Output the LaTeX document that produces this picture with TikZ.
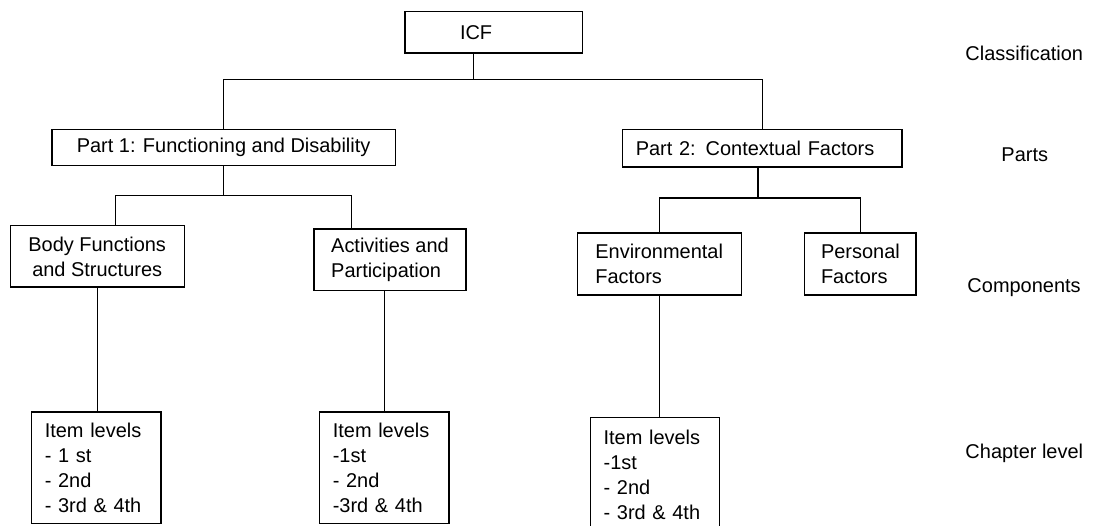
\documentclass[tikz,border=0pt]{standalone}
\usepackage{fontspec}
\setmainfont{Liberation Sans}
\usepackage{tikz}
\usetikzlibrary{calc}

\tikzset{
    box/.style={draw, line width=0.95pt, inner sep=0pt, font={\fontsize{14.2}{17.8}\selectfont}},
    link/.style={line width=0.8pt},
    level/.style={anchor=west, inner sep=0pt, font={\fontsize{14.2}{17.8}\selectfont}}
}

\begin{document}
\begin{tikzpicture}
        \useasboundingbox (0, 0) rectangle (27.925, -13.125);

        \node[box, minimum height=1.03cm, text width=1.68cm, inner xsep=1.375cm, align=left] (icf) at (12.34, -0.81) {ICF};
        \node[box, minimum width=8.58cm, minimum height=0.9cm] (part1) at (5.59, -3.68) {Part 1: Functioning and Disability};
        \node[box, minimum height=0.93cm, text width=6.33cm, inner xsep=0.325cm, align=left] (part2) at (19.06, -3.71) {Part 2: Contextual Factors};
        \node[box, minimum width=4.35cm, minimum height=1.53cm, align=center] (body) at (2.43, -6.41) {Body Functions\\and Structures};
        \node[box, minimum width=3.8cm, minimum height=1.53cm, align=left] (act) at (9.75, -6.49) {Activities and\\Participation};
        \node[box, minimum width=4.1cm, minimum height=1.55cm, align=left] (env) at (16.48, -6.6) {Environmental\\Factors};
        \node[box, minimum width=2.78cm, minimum height=1.55cm, align=left] (pers) at (21.51, -6.6) {Personal\\Factors};
        % item levels under the components
        \node[box, minimum height=2.78cm, text width=2.58cm, inner xsep=0.325cm, align=left] (item1) at (2.41, -11.69) {Item levels\\- 1 st\\- 2nd\\- 3rd \& 4th};
        \node[box, minimum height=2.78cm, text width=2.58cm, inner xsep=0.325cm, align=left] (item2) at (9.61, -11.69) {Item levels\\-1st\\- 2nd\\-3rd \& 4th};
        \node[box, minimum height=2.9cm, text width=2.58cm, inner xsep=0.325cm, align=left] (item3) at (16.38, -11.88) {Item levels\\-1st\\- 2nd\\- 3rd \& 4th};

        % level names on the right
        \node[level] (classLvl) at (24.13, -1.33) {Classification};
        \node[level] (partsLvl) at (25.03, -3.88) {Parts};
        \node[level] (compLvl) at (24.18, -7.18) {Components};
        \node[level] (chapLvl) at (24.13, -11.33) {Chapter level};

        \coordinate (icfJoin) at (11.83, -1.98);
        \coordinate (p1L) at (2.88, -4.88);
        \coordinate (p1R) at (8.78, -4.88);
        \coordinate (p2Join) at (18.95, -4.95);

        \draw[link] (icfJoin |- icf.south) -- (icfJoin);
        \draw[link] (part1.north) |- (icfJoin) -| (part2.north);
        \draw[link] (part1.south) -- (part1.south |- p1L);
        \draw[link] (p1L |- body.north) -- (p1L) -- (p1R) -- (p1R |- act.north);
        \draw[link] (p2Join |- part2.south) -- (p2Join);
        \draw[link] (env.north) |- (p2Join) -| (pers.north);
        \draw[link] (body.south) -- (body.south |- item1.north);
        \draw[link] (item2.north |- act.south) -- (item2.north);
        \draw[link] (env.south) -- (env.south |- item3.north);
    \end{tikzpicture}
\end{document}
